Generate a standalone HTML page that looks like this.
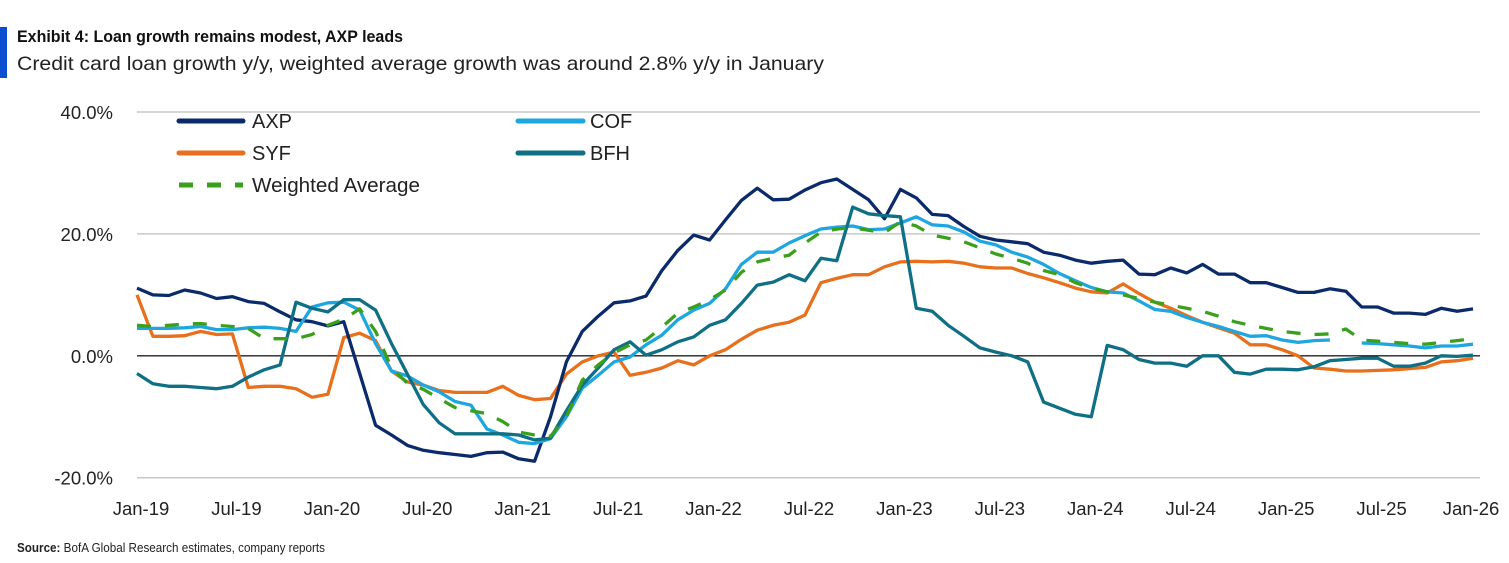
<!DOCTYPE html>
<html><head><meta charset="utf-8"><style>
body{margin:0;background:#fff;width:1509px;height:558px;overflow:hidden;font-family:"Liberation Sans",sans-serif;}
</style></head><body>
<svg width="1509" height="558" xmlns="http://www.w3.org/2000/svg">
<rect x="0" y="27" width="7" height="51" fill="#0a4fd0"/>
<text x="17" y="42" font-size="17" font-weight="bold" fill="#111" textLength="386" lengthAdjust="spacingAndGlyphs">Exhibit 4: Loan growth remains modest, AXP leads</text>
<text x="17" y="70" font-size="19.5" fill="#222" textLength="807" lengthAdjust="spacingAndGlyphs">Credit card loan growth y/y, weighted average growth was around 2.8% y/y in January</text>
<g id="grid"></g>
<g id="ylab"></g>
<g id="xlab"></g>
<g id="lines"></g>
<g font-size="20" fill="#222">
<line x1="179" y1="121" x2="243" y2="121" stroke="#0a2a6b" stroke-width="5" stroke-linecap="round"/><text x="252" y="128">AXP</text>
<line x1="518" y1="121" x2="583" y2="121" stroke="#1ea6e0" stroke-width="5" stroke-linecap="round"/><text x="590" y="128">COF</text>
<line x1="179" y1="153" x2="243" y2="153" stroke="#e8701c" stroke-width="5" stroke-linecap="round"/><text x="252" y="160">SYF</text>
<line x1="518" y1="153" x2="583" y2="153" stroke="#0f6f85" stroke-width="5" stroke-linecap="round"/><text x="590" y="160">BFH</text>
<line x1="179" y1="185" x2="243" y2="185" stroke="#3aa01c" stroke-width="5" stroke-dasharray="14,14"/><text x="252" y="192" textLength="168" lengthAdjust="spacingAndGlyphs">Weighted Average</text>
</g>
<text x="17" y="552" font-size="13" fill="#222" textLength="308" lengthAdjust="spacingAndGlyphs"><tspan font-weight="bold">Source:</tspan> BofA Global Research estimates, company reports</text>
</svg>
<script>
const yTicks=[40,20,0,-20];
const yTickLabels=["40.0%","20.0%","0.0%","-20.0%"];
const xTickLabels=["Jan-19","Jul-19","Jan-20","Jul-20","Jan-21","Jul-21","Jan-22","Jul-22","Jan-23","Jul-23","Jan-24","Jul-24","Jan-25","Jul-25","Jan-26"];
const AXP=[11.1,10,9.9,10.8,10.3,9.4,9.7,8.9,8.6,7.2,5.9,5.6,4.9,5.6,-2.9,-11.4,-13,-14.7,-15.5,-15.9,-16.2,-16.5,-15.9,-15.8,-16.9,-17.3,-10,-1,4,6.5,8.7,9,9.8,14,17.3,19.8,19,22.3,25.5,27.5,25.6,25.7,27.2,28.4,29,27.3,25.6,22.5,27.3,25.9,23.2,23,21.2,19.6,19,18.7,18.4,17,16.5,15.7,15.2,15.5,15.7,13.4,13.3,14.4,13.6,15,13.4,13.4,12,12,11.2,10.4,10.4,11,10.6,8,8,7,7,6.8,7.8,7.3,7.7];
const COF=[4.5,4.5,4.5,4.6,4.8,4.3,4.3,4.6,4.7,4.5,4,8,8.7,8.8,7.5,2,-2.5,-3.3,-4.8,-5.9,-7.5,-8.1,-12,-13,-14.2,-14.4,-13.6,-10,-5.3,-3.2,-1,-0.2,1.8,3.4,5.9,7.5,8.6,11,15,17,17,18.5,19.7,20.8,21.1,21.3,20.7,20.8,21.8,22.8,21.5,21.3,20.3,18.8,18.2,17,16.2,15,13.5,12.3,11.2,10.5,10.3,9,7.6,7.3,6.3,5.5,4.8,4,3.2,3.3,2.6,2.2,2.5,2.6,null,2.1,2,1.8,1.6,1.3,1.6,1.6,1.9];
const SYF=[10,3.2,3.2,3.3,4,3.5,3.6,-5.2,-5,-5,-5.4,-6.8,-6.3,3,3.7,2.5,-2.5,-4.3,-4.8,-5.7,-6,-6,-6,-5,-6.5,-7.2,-7,-3,-1,0,0.6,-3.2,-2.7,-2,-0.8,-1.5,0,1,2.7,4.2,5,5.5,6.7,12,12.7,13.3,13.3,14.6,15.4,15.5,15.4,15.5,15.2,14.6,14.4,14.4,13.5,12.8,12,11.1,10.5,10.3,11.8,10.2,8.8,7.8,6.6,5.5,4.6,3.7,1.8,1.8,1,0,-2,-2.2,-2.5,-2.5,-2.4,-2.3,-2.1,-1.9,-1,-0.8,-0.4];
const BFH=[-2.9,-4.6,-5,-5,-5.2,-5.4,-5,-3.5,-2.3,-1.5,8.8,7.8,7.2,9.2,9.2,7.5,2,-3,-8,-11,-12.8,-12.8,-12.8,-12.8,-13,-13.8,-13.5,-9,-4.8,-2,1,2.3,0.1,1,2.3,3.1,5,5.9,8.6,11.6,12.1,13.3,12.3,16,15.6,24.4,23.3,23,22.8,7.8,7.3,5,3.2,1.3,0.6,0,-1,-7.6,-8.6,-9.6,-10,1.7,1,-0.6,-1.2,-1.2,-1.7,0,0,-2.7,-3,-2.2,-2.2,-2.3,-1.8,-0.8,-0.6,-0.4,-0.4,-1.7,-1.7,-1.2,0,-0.1,0.1];
const WA=[5,4.8,5,5.2,5.3,5,4.8,4.5,2.8,2.8,2.8,3.5,5,6,7.7,4,-2,-4.5,-5.5,-7,-8.5,-9,-9.5,-10.8,-12.5,-13,-13.2,-10,-4,-1.5,0.5,1.8,2.6,4.7,7,8,9.2,10.8,13.7,15.4,16,16.5,18.5,20.3,20.8,21,20.6,20.2,22,21.3,19.8,19.3,18.7,17.7,16.7,16,15.2,14,13.3,12,11.1,10.5,10,9.4,8.8,8.3,7.8,7.3,6.5,5.6,5,4.5,4,3.7,3.5,3.6,4.4,2.6,2.4,2.2,2,1.9,2.2,2.5,2.8];
const NS="http://www.w3.org/2000/svg";
const X0=137,X1=1473,YTOP=112,YBOT=477.7,VMAX=40,VMIN=-20;
function xs(i){return X0+(X1-X0)*i/84;}
function ys(v){return YTOP+(VMAX-v)/(VMAX-VMIN)*(YBOT-YTOP);}
const grid=document.getElementById('grid');
yTicks.forEach((t,k)=>{
  const l=document.createElementNS(NS,'line');
  
  
  l.setAttribute('x1',137);l.setAttribute('x2',1480);
  l.setAttribute('y1',ys(t));l.setAttribute('y2',ys(t));
  l.setAttribute('stroke',t===0?'#222':'#c8c8c8');l.setAttribute('stroke-width',t===0?1.3:1.5);
  grid.appendChild(l);
  const tx=document.createElementNS(NS,'text');
  
  
  tx.setAttribute('x',113);tx.setAttribute('y',ys(t)+7);
  tx.setAttribute('text-anchor','end');tx.setAttribute('font-size','18.5');tx.setAttribute('fill','#222');
  tx.textContent=yTickLabels[k];
  document.getElementById('ylab').appendChild(tx);
});
xTickLabels.forEach((s,k)=>{
  const tx=document.createElementNS(NS,'text');
  
  
  let x=xs(k*6)+4; if(k===14)x=1471;
  tx.setAttribute('x',x);tx.setAttribute('y',515);
  tx.setAttribute('text-anchor','middle');tx.setAttribute('font-size','18.5');tx.setAttribute('fill','#222');
  tx.textContent=s;
  document.getElementById('xlab').appendChild(tx);
});
function draw(arr,color,name,dash){
  let d='',pen=false;
  arr.forEach((v,i)=>{
    if(v===null){pen=false;return;}
    d+=(pen?'L':'M')+xs(i).toFixed(1)+' '+ys(v).toFixed(1)+' ';pen=true;
  });
  const p=document.createElementNS(NS,'path');
  
  
  p.setAttribute('d',d);p.setAttribute('fill','none');p.setAttribute('stroke',color);
  p.setAttribute('stroke-width',3.3);p.setAttribute('stroke-linejoin','round');
  if(dash)p.setAttribute('stroke-dasharray','14,14');
  document.getElementById('lines').appendChild(p);
}
draw(SYF,'#e8701c','syf-line');
draw(AXP,'#0a2a6b','axp-line');
draw(COF,'#1ea6e0','cof-line');
draw(BFH,'#0f6f85','bfh-line');
draw(WA,'#3aa01c','weighted-average-line',true);
</script>
</body></html>
